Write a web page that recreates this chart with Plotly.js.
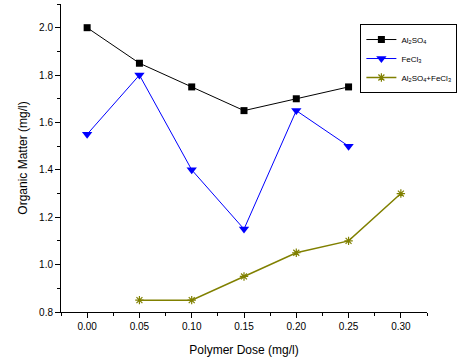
<!DOCTYPE html>
<html><head><meta charset="utf-8">
<script src="https://cdn.plot.ly/plotly-3.0.1.min.js"></script>
<style>html,body{margin:0;padding:0;background:#fff}</style>
</head><body>
<div id="chart" style="width:461px;height:361px"></div>
<script>
var doseA = [0.00, 0.05, 0.10, 0.15, 0.20, 0.25];
var al2so4 = [2.00, 1.85, 1.75, 1.65, 1.70, 1.75];
var doseF = [0.00, 0.05, 0.10, 0.15, 0.20, 0.25];
var fecl3 = [1.55, 1.80, 1.40, 1.15, 1.65, 1.50];
var doseM = [0.05, 0.10, 0.15, 0.20, 0.25, 0.30];
var mixed = [0.85, 0.85, 0.95, 1.05, 1.10, 1.30];
var names = ['Al<sub>2</sub>SO<sub>4</sub>', 'FeCl<sub>3</sub>', 'Al<sub>2</sub>SO<sub>4</sub>+FeCl<sub>3</sub>'];

var traces = [
  {x: doseA, y: al2so4, name: names[0], mode: 'lines+markers', type: 'scatter',
   line: {color: '#000000', width: 1}, marker: {symbol: 'square', size: 7, color: '#000000'}},
  {x: doseF, y: fecl3, name: names[1], mode: 'lines+markers', type: 'scatter',
   line: {color: '#0000ff', width: 1}, marker: {symbol: 'triangle-down', size: 9, color: '#0000ff'}},
  {x: doseM, y: mixed, name: names[2], mode: 'lines+markers', type: 'scatter',
   line: {color: '#808000', width: 1.5}, marker: {symbol: 'asterisk-open', size: 7, color: '#808000', line: {color: '#808000', width: 1.2}}}
];

var font = {family: 'Liberation Sans, Arial, sans-serif', color: '#000'};
var layout = {
  width: 461, height: 361,
  margin: {l: 61, r: 10, t: 4, b: 49},
  paper_bgcolor: '#fff', plot_bgcolor: '#fff',
  font: font,
  showlegend: true,
  legend: {x: 0.818, y: 0.935, xanchor: 'left', yanchor: 'top',
    bordercolor: '#000', borderwidth: 1, bgcolor: '#fff',
    font: {family: font.family, size: 8, color: '#000'},
    tracegroupgap: 0, itemwidth: 30},
  xaxis: {
    range: [-0.025, 0.325], tickvals: [0, 0.05, 0.1, 0.15, 0.2, 0.25, 0.3],
    ticktext: ['0.00','0.05','0.10','0.15','0.20','0.25','0.30'],
    showgrid: false, zeroline: false, showline: true, linecolor: '#000', linewidth: 1,
    ticks: 'outside', ticklen: 5, tickcolor: '#000', tickwidth: 1,
    minor: {dtick: 0.025, tick0: 0, ticks: 'outside', ticklen: 3, tickcolor: '#000', showgrid: false},
    tickfont: {family: font.family, size: 10, color: '#000'},
    title: {text: 'Polymer Dose (mg/l)', font: {family: font.family, size: 12, color: '#000'}, standoff: 14}
  },
  yaxis: {
    range: [0.8, 2.1], tickvals: [0.8, 1.0, 1.2, 1.4, 1.6, 1.8, 2.0],
    ticktext: ['0.8','1.0','1.2','1.4','1.6','1.8','2.0'],
    showgrid: false, zeroline: false, showline: true, linecolor: '#000', linewidth: 1,
    ticks: 'outside', ticklen: 5, tickcolor: '#000', tickwidth: 1,
    minor: {dtick: 0.1, tick0: 0.8, ticks: 'outside', ticklen: 3, tickcolor: '#000', showgrid: false},
    tickfont: {family: font.family, size: 10, color: '#000'},
    title: {text: 'Organic Matter (mg/l)', font: {family: font.family, size: 12, color: '#000'}, standoff: 8}
  }
};
Plotly.newPlot('chart', traces, layout, {displayModeBar: false, staticPlot: true});
</script>
</body></html>
